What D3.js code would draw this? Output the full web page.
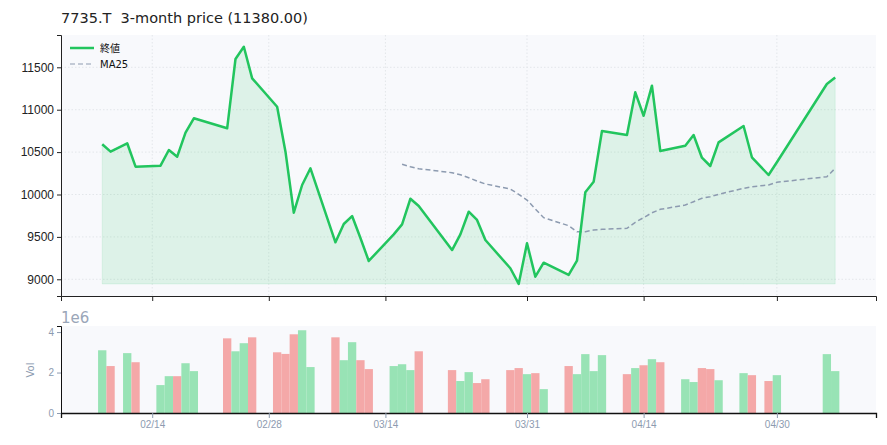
<!DOCTYPE html>
<html><head><meta charset="utf-8">
<script src="https://cdn.jsdelivr.net/npm/d3@7/dist/d3.min.js"></script>
<style>body{margin:0;background:#fff;font-family:"DejaVu Sans",sans-serif}</style>
</head><body><svg id="c" width="887" height="445"></svg>
<script>
const dates=["2026-02-09","2026-02-10","2026-02-12","2026-02-13","2026-02-16","2026-02-17","2026-02-18","2026-02-19","2026-02-20","2026-02-24","2026-02-25","2026-02-26","2026-02-27","2026-03-02","2026-03-03","2026-03-04","2026-03-05","2026-03-06","2026-03-09","2026-03-10","2026-03-11","2026-03-12","2026-03-13","2026-03-16","2026-03-17","2026-03-18","2026-03-19","2026-03-23","2026-03-24","2026-03-25","2026-03-26","2026-03-27","2026-03-30","2026-03-31","2026-04-01","2026-04-02","2026-04-03","2026-04-06","2026-04-07","2026-04-08","2026-04-09","2026-04-10","2026-04-13","2026-04-14","2026-04-15","2026-04-16","2026-04-17","2026-04-20","2026-04-21","2026-04-22","2026-04-23","2026-04-24","2026-04-27","2026-04-28","2026-04-30","2026-05-01","2026-05-07","2026-05-08"];
const close=[10592,10505,10604,10328,10340,10525,10446,10729,10899,10781,11598,11743,11370,11035,10505,9785,10112,10309,9436,9652,9746,9487,9216,9530,9648,9950,9864,9345,9530,9797,9700,9463,9130,8945,9425,9031,9196,9051,9219,10026,10151,10749,10702,11205,10929,11283,10513,10575,10702,10434,10336,10615,10808,10439,10230,10380,11303,11380];
const ma25=[null,null,null,null,null,null,null,null,null,null,null,null,null,null,null,null,null,null,null,null,null,null,null,null,10356,10328,10304,10257,10233,10198,10159,10124,10065,10002,9935,9829,9727,9632,9561,9561,9581,9590,9601,9672,9727,9785,9825,9876,9915,9955,9974,10002,10073,10092,10112,10144,10210,10309];
const volume=[3.10,2.32,2.96,2.51,1.38,1.82,1.82,2.46,2.07,3.69,3.05,3.45,3.74,3.00,2.92,3.89,4.09,2.27,3.74,2.61,3.50,2.61,2.17,2.32,2.41,2.12,3.05,2.12,1.58,2.02,1.48,1.67,2.12,2.22,1.92,1.97,1.18,2.32,1.92,2.91,2.07,2.86,1.92,2.22,2.36,2.66,2.51,1.67,1.53,2.22,2.17,1.62,1.97,1.87,1.58,1.87,2.91,2.07];
const up=[1,0,1,0,1,1,0,1,1,0,1,1,0,0,0,0,1,1,0,1,1,0,0,1,1,1,0,0,1,1,0,0,0,0,1,0,1,0,1,1,1,1,0,1,0,1,0,1,1,0,0,1,1,0,0,1,1,1];
const tickDates=["2026-02-15","2026-03-01","2026-03-15","2026-04-01","2026-04-15","2026-05-01"];
const tickLabels=["02/14","02/28","03/14","03/31","04/14","04/30"];
const priceTicks=[9000,9500,10000,10500,11000,11500];
const volTicks=[0,2,4];

const P=d3.timeParse("%Y-%m-%d");
const D=dates.map(P);
const svg=d3.select("#c");
const L=61,R=876,T1=35,B1=296,T2=326,B2=413;
const day=86400000;
const x=d3.scaleTime().domain([new Date(D[0]-4.95*day),new Date(+D[0]+92.9*day)]).range([L,R]);
const y=d3.scaleLinear().domain([8803,11881]).range([B1,T1]);
const yv=d3.scaleLinear().domain([0,4.3]).range([B2,T2]);
const grey="#8d9bb0";
svg.append("text").attr("x",61).attr("y",23).attr("font-size",14.5).attr("fill","#222").attr("xml:space","preserve").style("white-space","pre").text("7735.T  3-month price (11380.00)");
svg.append("rect").attr("x",L).attr("y",T1).attr("width",R-L).attr("height",B1-T1).attr("fill","#f8f9fc");
svg.append("rect").attr("x",L).attr("y",T2).attr("width",R-L).attr("height",B2-T2).attr("fill","#f8f9fc");
const g=svg.append("g");
priceTicks.forEach(v=>g.append("line").attr("x1",L).attr("x2",R).attr("y1",y(v)).attr("y2",y(v)).attr("stroke","#e3e6ea").attr("stroke-dasharray","1.5,2"));
tickDates.map(P).forEach(d=>g.append("line").attr("x1",x(d)).attr("x2",x(d)).attr("y1",T1).attr("y2",B1).attr("stroke","#e3e6ea").attr("stroke-dasharray","1.5,2"));
const base=d3.min(close);
svg.append("path").datum(close).attr("d",d3.area().x((d,i)=>x(D[i])).y0(y(base)).y1(d=>y(d))).attr("fill","#22c55e").attr("fill-opacity",0.12).attr("stroke","#22c55e").attr("stroke-opacity",0.1);
svg.append("path").datum(ma25).attr("d",d3.line().defined(d=>d!=null).x((d,i)=>x(D[i])).y(d=>y(d))).attr("fill","none").attr("stroke","#8d9bb0").attr("stroke-width",1.5).attr("stroke-dasharray","5,3");
svg.append("path").datum(close).attr("d",d3.line().x((d,i)=>x(D[i])).y(d=>y(d))).attr("fill","none").attr("stroke","#22c55e").attr("stroke-width",2.5).attr("stroke-linejoin","round");
const ax1=svg.append("g").attr("transform",`translate(0,${B1})`).call(d3.axisBottom(x).tickValues(tickDates.map(P)).tickFormat("").tickSize(5));
const ay1=svg.append("g").attr("transform",`translate(${L},0)`).call(d3.axisLeft(y).tickValues(priceTicks).tickFormat(d3.format("d")).tickSize(4));
ay1.selectAll("text").attr("font-size",12).attr("fill","#222");
[ax1,ay1].forEach(a=>{a.select(".domain").attr("stroke","#222");a.selectAll("line").attr("stroke","#222");});
const lg=svg.append("g");
lg.append("line").attr("x1",70).attr("x2",94).attr("y1",48).attr("y2",48).attr("stroke","#22c55e").attr("stroke-width",2.5);
lg.append("text").attr("x",100).attr("y",52).attr("font-size",10).attr("font-family","Noto Sans CJK JP").attr("fill","#111").text("終値");
lg.append("line").attr("x1",70).attr("x2",94).attr("y1",64).attr("y2",64).attr("stroke","#8d9bb0").attr("stroke-width",1.2).attr("stroke-dasharray","5,3");
lg.append("text").attr("x",100).attr("y",68).attr("font-size",10).attr("fill","#111").text("MA25");
const bw=x(new Date(+D[0]+day))-x(D[0]);
svg.append("g").selectAll("rect").data(volume).join("rect").attr("x",(d,i)=>x(D[i])-bw/2).attr("width",bw).attr("y",d=>yv(d)).attr("height",d=>B2-yv(d)).attr("fill",(d,i)=>up[i]?"#98e3b5":"#f4a8a8");
const ax2=svg.append("g").attr("transform",`translate(0,${B2})`).call(d3.axisBottom(x).tickValues(tickDates.map(P)).tickFormat((d,i)=>tickLabels[i]).tickSize(5));
const ay2=svg.append("g").attr("transform",`translate(${L},0)`).call(d3.axisLeft(yv).tickValues(volTicks).tickFormat(d3.format("d")).tickSize(4));
[ax2,ay2].forEach(a=>{a.selectAll("line").attr("stroke",grey);a.selectAll("text").attr("font-size",10).attr("fill",grey);});
ax2.select(".domain").attr("stroke","#111").attr("stroke-width",1.3);
ay2.select(".domain").attr("stroke","#111");
svg.append("text").attr("x",61).attr("y",323).attr("font-size",15).attr("fill","#9aa6b8").text("1e6");
svg.append("text").attr("transform","translate(34,370) rotate(-90)").attr("text-anchor","middle").attr("font-size",10).attr("fill",grey).text("Vol");
</script></body></html>
